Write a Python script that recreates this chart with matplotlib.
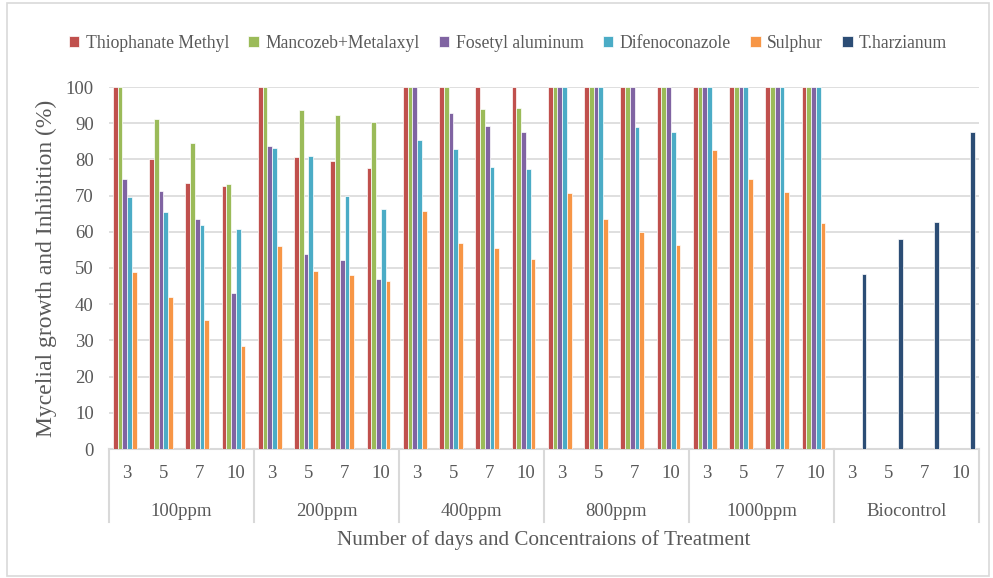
import numpy as np
import matplotlib
matplotlib.use("Agg")
import matplotlib.pyplot as plt
from matplotlib.patches import Rectangle
from matplotlib.lines import Line2D

nan = np.nan
days = ['3', '5', '7', '10']
groups = ['100ppm', '200ppm', '400ppm', '800ppm', '1000ppm', 'Biocontrol']
series_names = ['Thiophanate Methyl', 'Mancozeb+Metalaxyl', 'Fosetyl aluminum',
                'Difenoconazole', 'Sulphur', 'T.harzianum']

thiophanate = [100, 80.1, 73.6, 72.7, 100, 80.7, 79.5, 77.7, 100, 100, 100, 100,
               100, 100, 100, 100, 100, 100, 100, 100, nan, nan, nan, nan]
mancozeb = [100, 91.1, 84.4, 73.2, 100, 93.6, 92.4, 90.2, 100, 100, 93.9, 94.2,
            100, 100, 100, 100, 100, 100, 100, 100, nan, nan, nan, nan]
fosetyl = [74.5, 71.2, 63.5, 43.2, 83.7, 53.9, 52.1, 46.9, 100, 92.7, 89.3, 87.7,
           100, 100, 100, 100, 100, 100, 100, 100, nan, nan, nan, nan]
difeno = [69.7, 65.6, 62.0, 60.7, 83.1, 81.0, 69.9, 66.3, 85.3, 82.9, 77.9, 77.4,
          100, 100, 89.0, 87.7, 100, 100, 100, 100, nan, nan, nan, nan]
sulphur = [49.0, 41.9, 35.5, 28.4, 56.1, 49.2, 48.1, 46.3, 65.7, 57.0, 55.5, 52.4,
           70.8, 63.5, 60.0, 56.4, 82.5, 74.5, 71.1, 62.5, nan, nan, nan, nan]
tharz = [nan] * 20 + [48.4, 57.9, 62.8, 87.7]

all_series = [thiophanate, mancozeb, fosetyl, difeno, sulphur, tharz]
colors = ['#C0504D', '#9BBB59', '#8064A2', '#4BACC6', '#F79646', '#2C4D75']
txt = '#595959'
grid_c = '#D9D9D9'

plt.rcParams['font.family'] = ['Liberation Serif', 'DejaVu Serif']

W, H = 993, 578
fig = plt.figure(figsize=(W / 100, H / 100), dpi=100)
L, R, T, B = 109, 979, 87, 449
ax = fig.add_axes([L / W, 1 - B / H, (R - L) / W, (B - T) / H])

ncat = len(groups) * len(days)
x = np.arange(ncat)
slot = 0.13
for i, (vals, c) in enumerate(zip(all_series, colors)):
    offs = (i - 2.5) * slot
    ax.bar(x + offs, vals, width=slot, color=c, edgecolor='white', linewidth=0.5,
           label=series_names[i], zorder=3)

ax.set_xlim(-0.5, ncat - 0.5)
ax.set_ylim(0, 100)
ax.set_yticks(np.arange(0, 101, 10))
ax.yaxis.grid(True, color=grid_c, linewidth=1.2, zorder=0)
ax.set_axisbelow(True)
for s in ['left', 'right', 'top']:
    ax.spines[s].set_visible(False)
ax.spines['bottom'].set_color(grid_c)
ax.spines['bottom'].set_linewidth(1.5)
ax.tick_params(axis='y', length=0, pad=11, labelsize=13.5, labelcolor=txt)
ax.set_xticks([])

ah = B - T
day_y = (B - 473) / ah
grp_y = (B - 512) / ah
sep_y = (B - 522) / ah
trans = ax.get_xaxis_transform()
labels_days = days * len(groups)
for xi, d in zip(x, labels_days):
    ax.text(xi, day_y, d, transform=trans, ha='center', va='center',
            fontsize=13.5, color=txt)
for gi, g in enumerate(groups):
    cx = gi * len(days) + (len(days) - 1) / 2
    ax.text(cx, grp_y, g, transform=trans, ha='center', va='center',
            fontsize=13.5, color=txt)
for gi in range(len(groups) + 1):
    bx = gi * len(days) - 0.5
    ax.add_line(Line2D([bx, bx], [0, sep_y], transform=trans, color=grid_c,
                       linewidth=1.5, clip_on=False))

fig.text((L + R) / 2 / W, 1 - 540 / H, 'Number of days and Concentraions of Treatment',
         ha='center', va='center', fontsize=15.2, color=txt)
fig.text(46 / W, 1 - (T + B) / 2 / H, 'Mycelial growth and Inhibition (%)',
         ha='center', va='center', rotation=90, fontsize=17, color=txt)

handles, labs = ax.get_legend_handles_labels()
leg = fig.legend(handles, labs, loc='center', bbox_to_anchor=(508 / W, 1 - 43 / H),
                 ncol=6, frameon=False, fontsize=12.7, handlelength=0.6,
                 handleheight=0.6, handletextpad=0.35, columnspacing=1.1,
                 borderaxespad=0)
for t in leg.get_texts():
    t.set_color(txt)

fig.patches.append(Rectangle((7 / W, 2 / H), (989 - 7) / W, (575 - 2) / H,
                             transform=fig.transFigure, fill=False,
                             edgecolor=grid_c, linewidth=1.2))

fig.savefig('out.png', dpi=100)
